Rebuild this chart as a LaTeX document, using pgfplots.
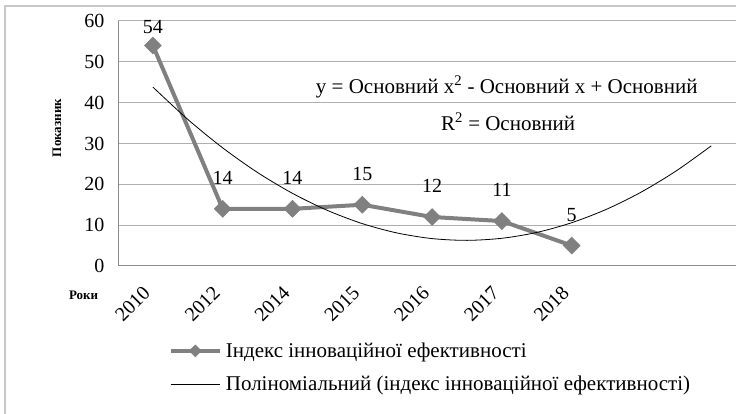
\documentclass[border=0pt]{standalone}
\usepackage{fontspec}
\setmainfont{Liberation Serif}
\newfontfamily\tnr{Liberation Serif}
\usepackage{pgfplots}
\usepackage{pgfplotstable}
\pgfplotsset{compat=1.18}
\definecolor{mainser}{RGB}{128,128,128}
\definecolor{gridc}{RGB}{175,175,175}
\definecolor{axisc}{RGB}{140,140,140}
\definecolor{framec}{RGB}{200,200,200}
\pgfplotstableread{
x y dy
0 54 18
1 14 31
2 14 31
3 15 31
4 12 31
5 11 31
6 5 31
}\maindata
\pgfplotstableread{
x y
0 43.81
0.5 35.90
1 28.93
1.5 22.89
2 17.79
2.5 13.62
3 10.38
3.5 8.08
4 6.71
4.5 6.28
5 6.79
5.5 8.22
6 10.60
6.5 13.90
7 18.14
7.5 23.32
8 29.43
}\trenddata
\begin{document}
\begin{tikzpicture}[x=1pt,y=1pt]
\path[use as bounding box, clip] (0,0) rectangle (736,414);
\draw[color=framec, line width=1.5pt] (5,-10) -- (5,408) -- (750,408);
\begin{axis}[
 at={(118pt,148pt)}, anchor=south west,
 scale only axis, width=618pt, height=245pt,
 xmin=-0.5, xmax=8.354, ymin=0, ymax=60,
 ytick={0,10,...,60},
 xtick={0,...,6},
 xticklabels={2010,2012,2014,2015,2016,2017,2018},
 axis x line*=bottom, axis y line*=left,
 axis line style={axisc, line width=1pt, -},
 major tick length=0pt,
 ymajorgrids, grid style={gridc, line width=1pt},
 tick label style={font=\tnr\fontsize{20}{22}\selectfont},
 /pgf/number format/assume math mode=true,
 xticklabel style={xshift=-11pt, yshift=-14pt, rotate=45, anchor=north east},
 yticklabel style={xshift=-10pt},
 xlabel={Роки}, ylabel={Показник},
 every axis x label/.style={at={(axis description cs:-0.0557,-0.118)}, anchor=center, font=\tnr\bfseries\fontsize{13}{15}\selectfont},
 every axis y label/.style={at={(axis description cs:-0.0987,0.563)}, rotate=90, anchor=center, font=\tnr\bfseries\fontsize{13}{15}\selectfont},
 legend style={at={(axis description cs:0.082,-0.3045)}, anchor=north west, draw=none, fill=none, font=\tnr\fontsize{21}{24}\selectfont, row sep=13pt, inner sep=0pt, nodes={inner xsep=4pt}},
 legend cell align=left,
 legend image code/.code={\draw[mark repeat=2,mark phase=2,mark size=4.2pt,#1] plot coordinates {(0pt,0pt)(24.5pt,0pt)(49pt,0pt)};},
 clip=false,
]
\addplot[color=mainser, line width=4pt, mark=square*, mark size=6pt, mark options={rotate=45, line width=0.5pt, fill=mainser},
  visualization depends on={\thisrow{dy}\as\dy},
  nodes near coords, every node near coord/.style={anchor=center, yshift=\dy, font=\tnr\fontsize{20}{22}\selectfont, text=black}]
  table[x=x,y=y] {\maindata};
\addlegendentry{Індекс інноваційної ефективності}
\addplot[color=black, line width=0.8pt, smooth, no marks] table[x=x,y=y] {\trenddata};
\addlegendentry{Поліноміальний (індекс інноваційної ефективності)}
\node[font=\tnr\fontsize{21}{24}\selectfont] at (axis cs:5.07,43.8) {y = Основний x\textsuperscript{2} - Основний x + Основний};
\node[font=\tnr\fontsize{21}{24}\selectfont] at (axis cs:5.09,35.3) {R\textsuperscript{2} = Основний};
\end{axis}
\end{tikzpicture}
\end{document}
